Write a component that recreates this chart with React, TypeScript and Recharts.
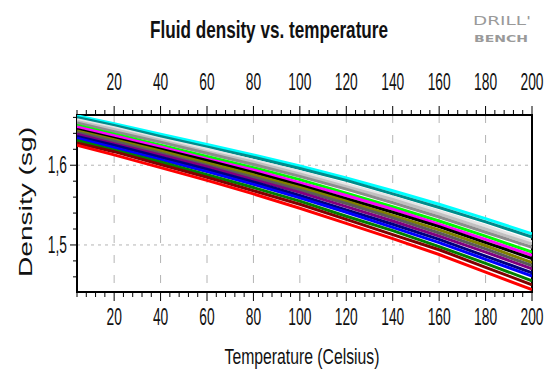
import { LineChart, Line, XAxis, YAxis, CartesianGrid, ReferenceArea } from "recharts";

// temperature (Celsius) sample points, shared by every curve
const temperatures = [4, 20, 40, 60, 80, 100, 120, 140, 160, 180, 200];

// density curves (sg), top to bottom as they appear in the plot
const cyanCurve = [1.662, 1.652, 1.639, 1.626, 1.613, 1.599, 1.584, 1.568, 1.551, 1.533, 1.514];
const tealCurve = [1.66, 1.65, 1.636, 1.623, 1.61, 1.596, 1.581, 1.564, 1.547, 1.529, 1.51];
const lightCurve = [1.657, 1.647, 1.633, 1.62, 1.606, 1.592, 1.576, 1.56, 1.542, 1.524, 1.504];
const silverCurve = [1.655, 1.645, 1.631, 1.617, 1.604, 1.589, 1.573, 1.557, 1.539, 1.52, 1.501];
const grayCurve = [1.653, 1.642, 1.629, 1.615, 1.601, 1.586, 1.57, 1.553, 1.535, 1.516, 1.497];
const limeCurve = [1.65, 1.639, 1.625, 1.611, 1.597, 1.582, 1.565, 1.548, 1.53, 1.511, 1.491];
const magentaCurve = [1.648, 1.637, 1.623, 1.608, 1.594, 1.578, 1.562, 1.545, 1.526, 1.507, 1.487];
const blackCurve = [1.645, 1.634, 1.62, 1.606, 1.591, 1.575, 1.558, 1.541, 1.523, 1.503, 1.483];
const oliveCurve = [1.643, 1.632, 1.618, 1.603, 1.588, 1.572, 1.555, 1.537, 1.519, 1.499, 1.478];
const dimCurve = [1.641, 1.63, 1.615, 1.6, 1.585, 1.569, 1.552, 1.534, 1.515, 1.495, 1.474];
const purpleCurve = [1.639, 1.627, 1.613, 1.598, 1.582, 1.566, 1.548, 1.53, 1.511, 1.491, 1.47];
const navyCurve = [1.636, 1.625, 1.61, 1.595, 1.579, 1.562, 1.544, 1.526, 1.507, 1.486, 1.465];
const blueCurve = [1.634, 1.622, 1.607, 1.592, 1.576, 1.559, 1.541, 1.522, 1.503, 1.482, 1.461];
const greenCurve = [1.631, 1.619, 1.604, 1.588, 1.572, 1.555, 1.536, 1.518, 1.498, 1.477, 1.455];
const maroonCurve = [1.628, 1.617, 1.601, 1.585, 1.568, 1.551, 1.532, 1.513, 1.494, 1.472, 1.45];
const redCurve = [1.625, 1.613, 1.597, 1.581, 1.564, 1.546, 1.527, 1.508, 1.488, 1.466, 1.444];

const curves = [
  cyanCurve, tealCurve, lightCurve, silverCurve, grayCurve, limeCurve, magentaCurve, blackCurve,
  oliveCurve, dimCurve, purpleCurve, navyCurve, blueCurve, greenCurve, maroonCurve, redCurve,
];

// axis ticks
const xTicks = [4, 8, 12, 16, 20, 24, 28, 32, 36, 40, 44, 48, 52, 56, 60, 64, 68, 72, 76, 80, 84, 88, 92, 96, 100,
  104, 108, 112, 116, 120, 124, 128, 132, 136, 140, 144, 148, 152, 156, 160, 164, 168, 172, 176, 180, 184, 188, 192, 196, 200];
const xLabelled = [20, 40, 60, 80, 100, 120, 140, 160, 180, 200];
const yTicks = [1.46, 1.48, 1.5, 1.52, 1.54, 1.56, 1.58, 1.6, 1.62, 1.64, 1.66];
const yLabelled = [1.5, 1.6];

const COLORS = [
  "#00ffff", "#008b8b", "#e4e4e4", "#c0c0c0", "#8c8c8c", "#00ff00", "#ff00ff", "#000000",
  "#808000", "#5a5a5a", "#800080", "#000080", "#0000ff", "#008000", "#800000", "#ff0000",
];

const data = temperatures.map((t, i) => {
  const row: Record<string, number> = { t };
  curves.forEach((c, k) => (row["c" + k] = c[i]));
  return row;
});

const isLabelled = (list: number[], v: number) => list.some((l) => Math.abs(l - v) < 1e-6);
const fmt = (v: number) => String(Math.round(v * 10) / 10).replace(".", ",");

function XTick(props: any) {
  const { x, y, payload, top } = props;
  const major = isLabelled(xLabelled, payload.value);
  const dir = top ? -1 : 1;
  const len = major ? 9 : 5;
  return (
    <g>
      <line x1={x} x2={x} y1={y} y2={y + dir * len} stroke="#000" />
      {major && (
        <text
          transform={`translate(${x},${top ? y - 25 : y + 33}) scale(0.6,1)`}
          textAnchor="middle"
          fontFamily="Arial, 'Liberation Sans', sans-serif"
          fontSize={23}
          fill="#111"
        >
          {payload.value}
        </text>
      )}
    </g>
  );
}

function YTick(props: any) {
  const { x, y, payload } = props;
  const major = isLabelled(yLabelled, payload.value);
  return (
    <g>
      <line x1={x} x2={x - (major ? 7 : 4)} y1={y} y2={y} stroke="#000" />
      {major && (
        <text
          transform={`translate(${x - 10},${y + 8}) scale(0.6,1)`}
          textAnchor="end"
          fontFamily="Arial, 'Liberation Sans', sans-serif"
          fontSize={23}
          fill="#111"
        >
          {fmt(payload.value)}
        </text>
      )}
    </g>
  );
}

export default function App() {
  return (
    <div style={{ position: "absolute", left: 0, top: 0, width: 548, height: 375, background: "#fff" }}>
      <LineChart width={548} height={375} data={data} margin={{ top: 85, right: 16, bottom: 53, left: 37 }}>
        <CartesianGrid horizontal={false} verticalValues={[20, 40, 60, 80, 100, 120, 140, 160, 180]} stroke="#b4b4b4" strokeDasharray="8 12" />
        <CartesianGrid vertical={false} horizontalValues={yLabelled} stroke="#b4b4b4" strokeDasharray="3 4" />
        <XAxis
          dataKey="t"
          type="number"
          domain={[4, 200]}
          ticks={xTicks}
          interval={0}
          height={30}
          tickSize={0}
          tickMargin={0}
          axisLine={false}
          tickLine={false}
          tick={<XTick />}
          allowDataOverflow
        />
        <XAxis
          xAxisId="top"
          orientation="top"
          dataKey="t"
          type="number"
          domain={[4, 200]}
          ticks={xTicks}
          interval={0}
          height={30}
          tickSize={0}
          tickMargin={0}
          axisLine={false}
          tickLine={false}
          tick={<XTick top />}
          allowDataOverflow
        />
        <YAxis
          type="number"
          domain={[1.441, 1.663]}
          ticks={yTicks}
          interval={0}
          width={40}
          tickSize={0}
          tickMargin={0}
          axisLine={false}
          tickLine={false}
          tick={<YTick />}
          allowDataOverflow
        />
        {curves.map((_, k) => (
          <Line
            key={k}
            dataKey={"c" + k}
            stroke={COLORS[k]}
            strokeWidth={3}
            dot={false}
            isAnimationActive={false}
          />
        ))}
        <ReferenceArea x1={4} x2={200} y1={1.441} y2={1.663} fill="none" stroke="#000" strokeWidth={2} ifOverflow="visible" />
      </LineChart>
      <svg width={548} height={375} style={{ position: "absolute", left: 0, top: 0, pointerEvents: "none" }}>
        <text x={269} y={38} textAnchor="middle" fontFamily="Arial, 'Liberation Sans', sans-serif" fontWeight="bold" fontSize={24} textLength={238} lengthAdjust="spacingAndGlyphs" fill="#111">
          Fluid density vs. temperature
        </text>
        <text x={473} y={25} fontFamily="'DejaVu Sans', sans-serif" fontSize={12} textLength={58} lengthAdjust="spacingAndGlyphs" fill="#9a9a9a">
          DRILL'
        </text>
        <text x={474} y={42} fontFamily="'DejaVu Sans', sans-serif" fontWeight="bold" fontSize={8} textLength={54} lengthAdjust="spacingAndGlyphs" fill="#9a9a9a">
          BENCH
        </text>
        <text x={302} y={364} textAnchor="middle" fontFamily="Arial, 'Liberation Sans', sans-serif" fontSize={22} textLength={155} lengthAdjust="spacingAndGlyphs" fill="#111">
          Temperature (Celsius)
        </text>
        <text transform="translate(32,202) rotate(-90)" textAnchor="middle" fontFamily="Arial, 'Liberation Sans', sans-serif" fontSize={19} textLength={150} lengthAdjust="spacingAndGlyphs" fill="#111">
          Density (sg)
        </text>
      </svg>
    </div>
  );
}
